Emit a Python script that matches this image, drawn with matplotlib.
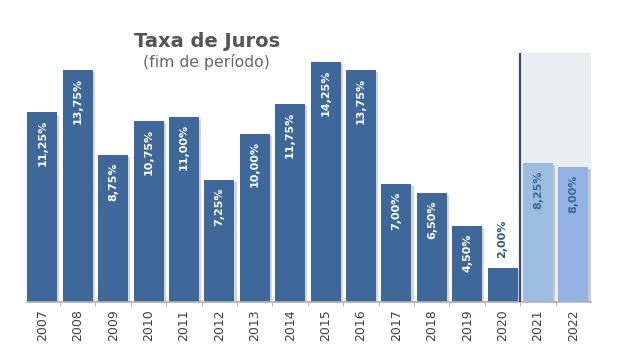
import matplotlib.pyplot as plt
import matplotlib.patheffects as pe

anos = ['2007', '2008', '2009', '2010', '2011', '2012', '2013', '2014',
        '2015', '2016', '2017', '2018', '2019', '2020', '2021', '2022']
taxa = [11.25, 13.75, 8.75, 10.75, 11.00, 7.25, 10.00, 11.75,
        14.25, 13.75, 7.00, 6.50, 4.50, 2.00, 8.25, 8.00]
rotulos = ['11,25%', '13,75%', '8,75%', '10,75%', '11,00%', '7,25%', '10,00%', '11,75%',
           '14,25%', '13,75%', '7,00%', '6,50%', '4,50%', '2,00%', '8,25%', '8,00%']

cores = ['#3d6899'] * 14 + ['#9dbde0', '#93b1e2']

fig = plt.figure(figsize=(6.17, 3.63), dpi=100)
ax = fig.add_axes([0.044, 0.168, 0.914, 0.686])

x = list(range(len(anos)))
ax.axvspan(13.5, 15.5, color='#e9eef3', zorder=0, lw=0)
bars = ax.bar(x, taxa, width=0.85, color=cores, zorder=2)
for b in bars:
    b.set_path_effects([pe.SimplePatchShadow(offset=(1.5, -1.5), shadow_rgbFace='#888888', alpha=0.35),
                        pe.Normal()])
ax.axvline(13.5, color='#3b4f6b', lw=1.6, zorder=3)

for i, (v, r) in enumerate(zip(taxa, rotulos)):
    if i == 13:
        ax.text(i, v + 0.6, r, rotation=90, ha='center', va='bottom',
                color='#2e5a8c', fontsize=8, fontweight='bold', zorder=4)
    elif i >= 14:
        ax.text(i, v - 0.45, r, rotation=90, ha='center', va='top',
                color='#3f6a9a', fontsize=8, fontweight='bold', zorder=4)
    else:
        ax.text(i, v - 0.45, r, rotation=90, ha='center', va='top',
                color='white', fontsize=8, fontweight='bold', zorder=4)

ax.set_xlim(-0.43, 15.5)
ax.set_ylim(0, 14.78)
ax.set_xticks(x)
ax.set_xticklabels(anos, rotation=90, fontsize=9, color='#404040')
ax.tick_params(axis='x', length=0, pad=5)
ax.set_xticks([i + 0.5 for i in range(15)], minor=True)
ax.tick_params(axis='x', which='minor', length=3, color='#aaaaaa')
ax.set_yticks([])
for s in ['top', 'right', 'left']:
    ax.spines[s].set_visible(False)
ax.spines['bottom'].set_color('#b0b0b0')
ax.spines['bottom'].set_linewidth(1.2)

fig.text(0.335, 0.885, 'Taxa de Juros', ha='center', va='center',
         fontsize=14, fontweight='bold', color='#555555')
fig.text(0.335, 0.828, '(fim de período)', ha='center', va='center',
         fontsize=11.3, color='#666666')

plt.savefig('out.png', dpi=100)
